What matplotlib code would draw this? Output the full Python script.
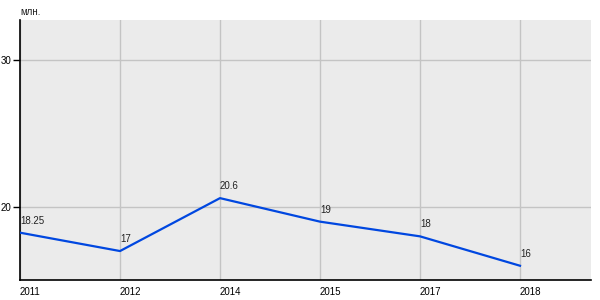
import matplotlib
matplotlib.use('Agg')
import matplotlib.pyplot as plt

plt.rcParams['font.family'] = ['Liberation Sans', 'DejaVu Sans']

years = ['2011', '2012', '2014', '2015', '2017', '2018']
values = [18.25, 17, 20.6, 19, 18, 16]
value_labels = ['18.25', '17', '20.6', '19', '18', '16']

fig = plt.figure(figsize=(6, 3), dpi=100)
ax = fig.add_axes([20 / 600, 20 / 300, 571 / 600, 260 / 300])
ax.set_facecolor('#ebebeb')

x = list(range(len(years)))
ax.plot(x, values, color='#0047e0', linewidth=1.6, zorder=3)

for xi, v, lab in zip(x, values, value_labels):
    ax.annotate(lab, (xi, v), xytext=(0, 5), textcoords='offset points',
                ha='left', va='bottom', fontsize=7, color='#222222')

ax.set_xlim(0, 5.71)
ax.set_ylim(15.03, 32.72)
ax.set_xticks(x)
ax.set_xticklabels(years, ha='left')
ax.set_yticks([20, 30])
ax.grid(True, color='#c4c4c4', linewidth=1)
ax.set_axisbelow(True)

for s in ['top', 'right']:
    ax.spines[s].set_visible(False)
for s in ['left', 'bottom']:
    ax.spines[s].set_color('black')
    ax.spines[s].set_linewidth(1.2)

ax.tick_params(axis='x', length=0, pad=5, labelsize=7)
ax.tick_params(axis='y', length=5, width=1, pad=1, labelsize=7)

fig.text(20 / 600, 1 - 12 / 300, 'млн.', fontsize=7, ha='left', va='center', color='#222222')

fig.savefig('out.png', dpi=100)
